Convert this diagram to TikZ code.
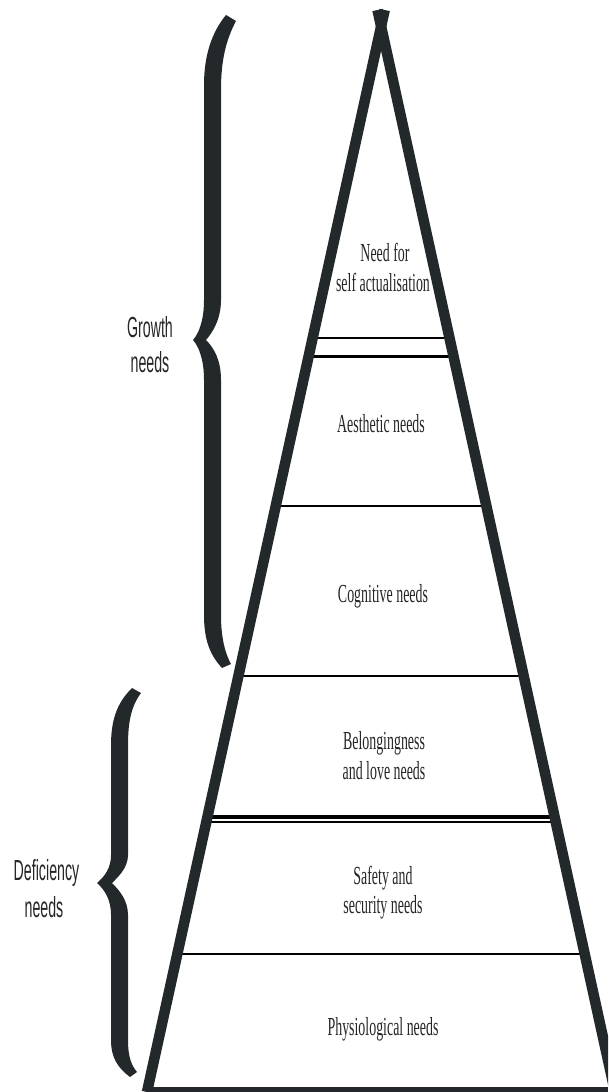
\documentclass[tikz,border=0pt]{standalone}
\usepackage{fontspec}
\setmainfont{Liberation Serif}
\newfontfamily\labelsans{Liberation Sans}
\definecolor{ink}{HTML}{23292B}
\definecolor{txt}{HTML}{262626}
\tikzset{
  side/.style={draw=ink, line width=10.5pt, line cap=butt},
  level/.style={draw=black, line width=2pt},
  thicklevel/.style={draw=black, line width=3.8pt},
  thinlevel/.style={draw=black, line width=1.3pt},
  brace/.style={fill=ink, draw=none},
  lbl/.style={font=\fontsize{26}{30}\selectfont, text=txt, xscale=0.535, anchor=base, inner sep=0pt},
  grp/.style={font=\labelsans\fontsize{29}{36}\selectfont, text=txt, xscale=0.49, anchor=base, inner sep=0pt}
}
\begin{document}
\begin{tikzpicture}[x=1pt,y=-1pt]
\path[use as bounding box, clip] (0,0) rectangle (608,1092);
\fill[white] (0,0) rectangle (608,1092);

% level separators
\draw[thinlevel] (314.2,338) -- (449.6,338);
\draw[thicklevel] (310.1,356.5) -- (453.6,356.5);
\draw[level] (277,506) -- (486.5,506);
\draw[level] (239.3,676) -- (523.8,676);
\draw[thicklevel] (208,817) -- (554.8,817);
\draw[thinlevel] (207,822) -- (556,822);
\draw[level] (177.7,954) -- (584.9,954);
\draw[draw=ink, line width=6pt] (146,1089.5) -- (608,1089.5);

% pyramid sides
\coordinate (apexL) at (384.7,10);
\coordinate (apexR) at (377.5,10);
\coordinate (baseL) at (147,1092);
\coordinate (baseR) at (615,1092);
\draw[side] (apexL) -- (baseL);
\draw[side] (apexR) -- (baseR);

% labels inside the pyramid
\node[lbl] (n1a) at (385,261) {Need for};
\node[lbl] (n1b) at (383,291) {self actualisation};
\node[lbl] (n2) at (381,432) {Aesthetic needs};
\node[lbl] (n3) at (383,602) {Cognitive needs};
\node[lbl] (n4a) at (384,749) {Belongingness};
\node[lbl] (n4b) at (384,779) {and love needs};
\node[lbl] (n5a) at (383,884) {Safety and};
\node[lbl] (n5b) at (383,913) {security needs};
\node[lbl] (n6) at (383,1035) {Physiological needs};

% growth brace
\path[brace] (226,15) -- (236,21)
  .. controls (226,40) and (221,60) .. (221,90)
  -- (221,300)
  .. controls (221,320) and (212,333) .. (206,340)
  .. controls (214,348) and (221,360) .. (221,380)
  -- (221,615)
  .. controls (221,640) and (226,655) .. (231,664)
  -- (222,668)
  .. controls (210,655) and (204,640) .. (204,615)
  -- (204,380)
  .. controls (204,362) and (200,348) .. (193,340)
  .. controls (200,332) and (204,318) .. (204,300)
  -- (204,85)
  .. controls (204,55) and (212,32) .. (226,15)
  -- cycle;

% deficiency brace
\path[brace] (132,688) -- (141,693)
  .. controls (132,705) and (128,720) .. (128,745)
  -- (128,855)
  .. controls (128,868) and (118,877) .. (112,883)
  .. controls (119,890) and (128,900) .. (128,915)
  -- (128,1040)
  .. controls (128,1058) and (132,1066) .. (137,1072)
  -- (130,1077)
  .. controls (118,1068) and (111,1058) .. (111,1040)
  -- (111,915)
  .. controls (111,900) and (105,890) .. (97,883)
  .. controls (105,876) and (111,868) .. (111,855)
  -- (111,745)
  .. controls (111,715) and (120,700) .. (132,688)
  -- cycle;

% group labels
\node[grp] (g1) at (150,337) {Growth};
\node[grp] (g2) at (150,372) {needs};
\node[grp] (d1) at (46.5,880) {Deficiency};
\node[grp] (d2) at (44,917) {needs};
\end{tikzpicture}
\end{document}
